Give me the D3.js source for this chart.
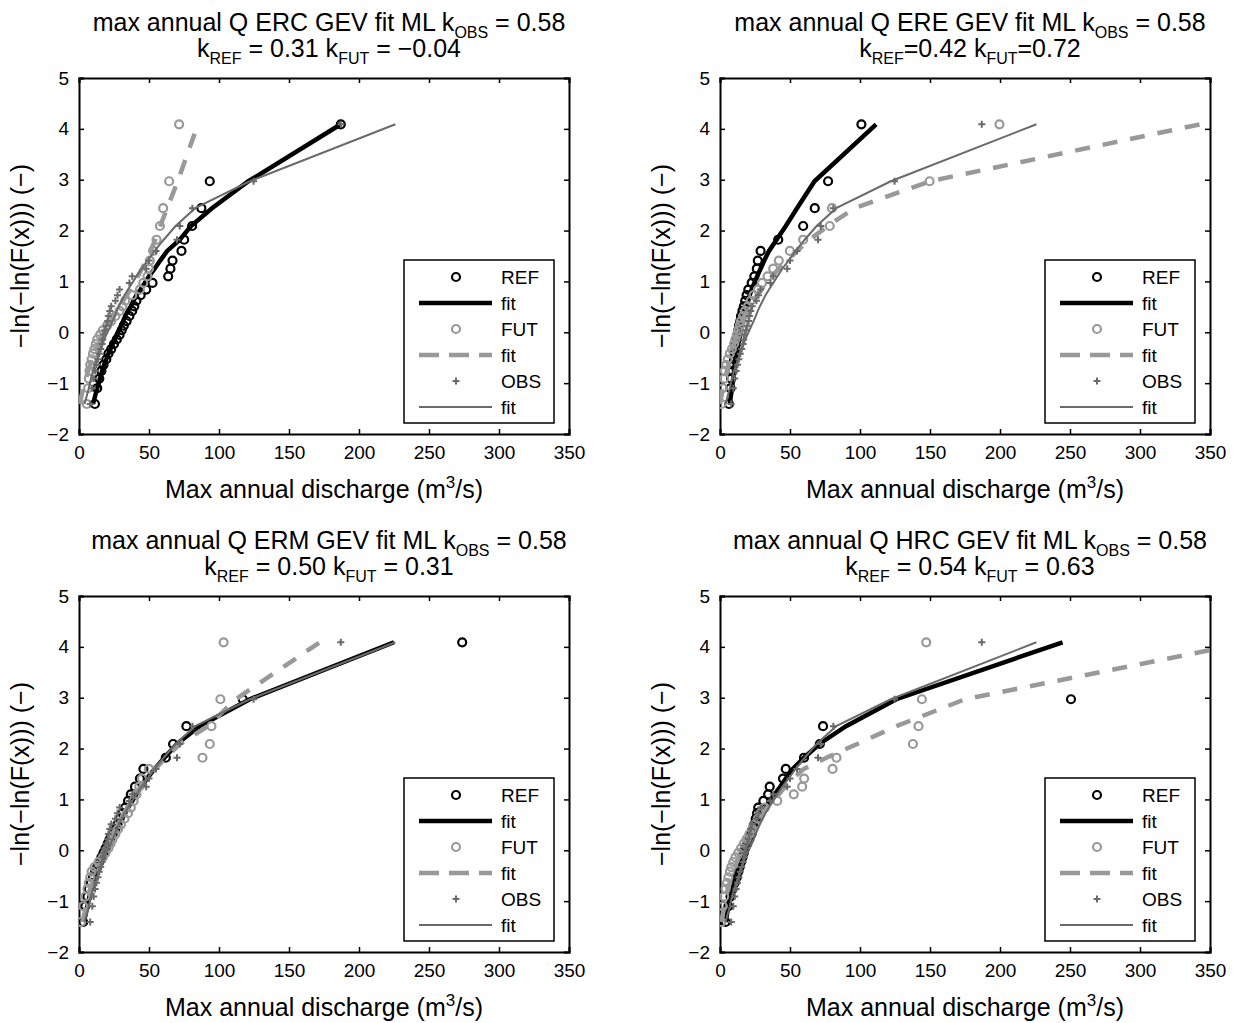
<!DOCTYPE html>
<html>
<head>
<meta charset="utf-8">
<script src="https://cdn.jsdelivr.net/npm/d3@7"></script>
<style>
  body { margin: 0; background: #fff; }
  text { font-family: "Liberation Sans", Arial, sans-serif; fill: #000; }
</style>
</head>
<body>
<script>
// reduced variate -ln(-ln(F)) of the plotting positions
const yPos = [-1.41, -1.10, -0.91, -0.76, -0.64, -0.53, -0.42, -0.33, -0.23, -0.14,
              -0.05, 0.04, 0.13, 0.22, 0.32, 0.42, 0.51, 0.62, 0.73, 0.84,
              0.97, 1.10, 1.25, 1.41, 1.60, 1.82, 2.09, 2.44, 2.97, 4.09];

// observed series, same in every panel
const obsQ   = [8, 9.5, 10.5, 11.5, 12.5, 13.5, 14.5, 15.5, 16.5, 17, 17.5, 18.5, 19.5, 20.5, 21, 22, 23, 26, 27.5, 29,
                36, 38, 48, 50, 55, 70, 72, 81, 124.7, 187];
const obsFit = [4, 7, 8.5, 10, 11.5, 13, 14, 15.5, 17, 18, 19.5, 21, 22.5, 24, 25.5, 27, 28.5, 30.5, 32.5, 35,
                38, 41, 44.5, 49, 54, 60.5, 69, 83, 122, 226];

// ERC
const ercRef    = [11.4, 13, 14.5, 16, 17.5, 19.5, 21, 23, 25, 27, 29, 30.5, 32, 34, 36, 38, 39.5, 41, 44, 48,
                   52.5, 63.7, 65.3, 66.8, 73.2, 75.1, 80.8, 87.4, 93.4, 187];
const ercRefFit = [10, 13, 15, 16.5, 18, 19.5, 21, 22.5, 24, 25.5, 27, 28.5, 30, 31.5, 33, 35, 37, 39, 41, 44,
                   47, 50, 54, 58, 63, 72, 80, 95, 121, 187];
const ercFut    = [5.5, 6.5, 7, 7.5, 8, 9, 10, 11, 12, 13, 15, 17, 20, 23, 26, 29, 31, 33, 38, 43.5,
                   45.9, 48.9, 49.9, 50.6, 53, 55.4, 57.8, 60.1, 64.4, 71.5];
const ercFutFit = [0.5, 3, 5, 6.5, 8, 9.5, 11, 12.5, 14, 15.5, 17, 19, 21, 23, 25, 27, 29, 31.5, 34, 36.5,
                   39.5, 42, 45, 48, 51, 54.5, 58, 63, 70.5, 85];

// ERE
const ereRef    = [6.4, 7.5, 8, 9, 9.5, 10, 10.5, 11, 11.5, 12, 12.5, 13, 13.5, 14.5, 15, 16, 17, 18, 19, 20.2,
                   22.6, 24.5, 26.3, 27, 29, 41.6, 59.4, 67.7, 77.2, 101];
const ereRefFit = [7, 8.5, 9.5, 10, 10.5, 11, 11.5, 12, 12.5, 13.2, 14, 14.6, 15.3, 16, 17, 18, 19, 20, 21.2, 22.6,
                   24.5, 26.5, 29, 31.6, 35, 40.4, 47, 55, 67.5, 111.5];
const ereFut    = [1, 2, 3, 3.5, 4.5, 5.5, 7, 8.5, 10, 11, 12, 13, 14, 15, 16.5, 18, 20, 22, 24, 27,
                   30, 34, 38, 42, 49.9, 59.4, 78.4, 80, 149.7, 199.6];
const ereFutFit = [0, 2, 3.5, 5, 6, 7, 8, 9, 10, 11, 12, 13, 14.5, 16, 17.5, 19.5, 21.5, 24, 26.5, 29.5,
                   33, 37, 42, 48, 55, 64, 77, 96, 150, 343];

// ERM
const ermRef    = [3, 4.5, 6, 7, 8.5, 10, 11.5, 13, 14.5, 16, 17.5, 19, 20.5, 22, 24, 26, 27.5, 29, 31, 33,
                   35, 37, 40, 43.5, 46, 62, 67.2, 76.7, 117, 273.7];
const ermRefFit = [3.5, 6, 7.5, 9, 10.5, 12, 13.5, 14.5, 16, 17.5, 19, 20.5, 22, 23.5, 25, 27, 28.5, 30.5, 32.5, 35,
                   38, 41, 44.5, 48.5, 54, 61, 70, 86, 122, 225];
const ermFut    = [1.5, 3, 4.5, 6, 7, 8, 9, 11, 14, 17, 19, 21, 22.5, 24, 26, 28, 30, 32.5, 35, 37,
                   39, 41, 43, 45, 50, 88.2, 93.4, 94.6, 101, 103.3];
const ermFutFit = [2.5, 5, 6.5, 8, 9.5, 11, 12.5, 14, 15.5, 17, 18.5, 20, 21.5, 23, 24.5, 26, 28, 30, 32, 34.5,
                   37.5, 40.5, 44, 48, 54.5, 62, 72, 92, 112, 172];

// HRC
const hrcRef    = [4, 6, 7.5, 9, 10.5, 12, 13, 14, 15, 16, 17, 18, 19.5, 21, 22.5, 23.5, 24.5, 25.5, 26.5, 27.3,
                   31, 34.4, 35.5, 45, 47, 60, 71.3, 73.6, 250.7, 400];
const hrcRefFit = [4, 6, 7.5, 9, 10, 11.5, 12.5, 14, 15, 16.5, 18, 19, 20.5, 22, 23.5, 25, 27, 28.5, 30.5, 33,
                   36, 39, 43, 47, 52, 60, 71, 90, 126, 244.7];
const hrcFut    = [1, 2, 3, 4, 5, 6, 7, 8, 9.5, 11, 13, 15, 17, 19, 21, 23, 25, 27, 29, 32,
                   40.9, 52.7, 58.7, 60.1, 80.4, 83.2, 137.8, 141.8, 144.2, 147.3];
const hrcFutFit = [1, 3, 4.5, 5.5, 7, 8, 9.5, 11, 12, 13.5, 15, 16.5, 18, 19.5, 21.5, 23.5, 25.5, 28, 30.5, 33.5,
                   37, 42, 46.5, 52, 60, 76, 98, 126, 175, 378];

const xTicks = [0, 50, 100, 150, 200, 250, 300, 350];
const yTicks = [-2, -1, 0, 1, 2, 3, 4, 5];
const legendLabels = ["REF", "fit", "FUT", "fit", "OBS", "fit"];

const panels = [
  {code: "ERC", left: 79,  top: 78,  ref: ercRef, refFit: ercRefFit, fut: ercFut, futFit: ercFutFit, kRef: "0.31", kFut: "\u22120.04", eq: " = "},
  {code: "ERE", left: 720, top: 78,  ref: ereRef, refFit: ereRefFit, fut: ereFut, futFit: ereFutFit, kRef: "0.42", kFut: "0.72", eq: "="},
  {code: "ERM", left: 79,  top: 596, ref: ermRef, refFit: ermRefFit, fut: ermFut, futFit: ermFutFit, kRef: "0.50", kFut: "0.31", eq: " = "},
  {code: "HRC", left: 720, top: 596, ref: hrcRef, refFit: hrcRefFit, fut: hrcFut, futFit: hrcFutFit, kRef: "0.54", kFut: "0.63", eq: " = "}
];

const W = 490, H = 356;
const black = "#000", lightGray = "#999", darkGray = "#6a6a6a";

const svg = d3.select("body").append("svg")
    .attr("width", 1234)
    .attr("height", 1023);

panels.forEach((p, i) => drawPanel(p, i));

function drawPanel(p, idx) {
    const g = svg.append("g").attr("transform", `translate(${p.left},${p.top})`);

    const x = d3.scaleLinear().domain([0, 350]).range([0, W]);
    const y = d3.scaleLinear().domain([-2, 5]).range([H, 0]);

    const clipId = "clip" + idx;
    g.append("clipPath").attr("id", clipId)
      .append("rect").attr("width", W).attr("height", H);

    // axes, MATLAB style: box with inward ticks
    const ax = g.append("g").attr("class", "axes");
    ax.append("g").attr("transform", `translate(0,${H})`)
        .call(d3.axisBottom(x).tickValues(xTicks).tickSize(-5).tickPadding(12).tickFormat(d3.format("d")));
    ax.append("g")
        .call(d3.axisTop(x).tickValues(xTicks).tickSize(-5).tickFormat(""));
    ax.append("g")
        .call(d3.axisLeft(y).tickValues(yTicks).tickSize(-5).tickPadding(10).tickFormat(d3.format("d")));
    ax.append("g").attr("transform", `translate(${W},0)`)
        .call(d3.axisRight(y).tickValues(yTicks).tickSize(-5).tickFormat(""));
    ax.selectAll(".domain").attr("stroke", black).attr("stroke-width", 2);
    ax.selectAll(".tick line").attr("stroke", black).attr("stroke-width", 1.5);
    ax.selectAll(".tick text").attr("font-size", 19).attr("fill", black)
        .style("font-family", '"Liberation Sans", Arial, sans-serif');

    const plot = g.append("g").attr("clip-path", `url(#${clipId})`);
    const line = d3.line().x(d => x(d[0])).y(d => y(d[1]));
    const pairs = arr => arr.map((v, k) => [v, yPos[k]]);

    // REF points + fit
    plot.append("g").selectAll("circle").data(pairs(p.ref)).join("circle")
        .attr("cx", d => x(d[0])).attr("cy", d => y(d[1])).attr("r", 4)
        .attr("fill", "none").attr("stroke", black).attr("stroke-width", 2.2);
    plot.append("path").datum(pairs(p.refFit)).attr("d", line)
        .attr("fill", "none").attr("stroke", black).attr("stroke-width", 4.5);

    // FUT points + fit
    plot.append("g").selectAll("circle").data(pairs(p.fut)).join("circle")
        .attr("cx", d => x(d[0])).attr("cy", d => y(d[1])).attr("r", 4)
        .attr("fill", "none").attr("stroke", lightGray).attr("stroke-width", 2.2);
    plot.append("path").datum(pairs(p.futFit)).attr("d", line)
        .attr("fill", "none").attr("stroke", lightGray).attr("stroke-width", 4.5)
        .attr("stroke-dasharray", "15,13");

    // OBS points + fit
    plot.append("g").selectAll("path").data(pairs(obsQ)).join("path")
        .attr("d", d => `M${x(d[0]) - 3.5},${y(d[1])}h7M${x(d[0])},${y(d[1]) - 3.5}v7`)
        .attr("stroke", darkGray).attr("stroke-width", 2);
    plot.append("path").datum(pairs(obsFit)).attr("d", line)
        .attr("fill", "none").attr("stroke", darkGray).attr("stroke-width", 2);

    // legend
    const lg = g.append("g").attr("transform", "translate(325,182)");
    lg.append("rect").attr("width", 150).attr("height", 163)
        .attr("fill", "#fff").attr("stroke", black).attr("stroke-width", 1.5);
    const rows = [17, 43, 69, 95, 121, 147];
    legendLabels.forEach((lab, k) => {
        const ry = rows[k];
        if (k === 0 || k === 2) {
            lg.append("circle").attr("cx", 52).attr("cy", ry).attr("r", 4)
                .attr("fill", "none").attr("stroke", k === 0 ? black : lightGray).attr("stroke-width", 2.2);
        } else if (k === 4) {
            lg.append("path").attr("d", `M48.5,${ry}h7M52,${ry - 3.5}v7`)
                .attr("stroke", darkGray).attr("stroke-width", 2);
        } else {
            const ln = lg.append("line").attr("x1", 15).attr("x2", 88).attr("y1", ry).attr("y2", ry);
            if (k === 1) ln.attr("stroke", black).attr("stroke-width", 4.5);
            if (k === 3) ln.attr("stroke", lightGray).attr("stroke-width", 4.5).attr("stroke-dasharray", "20,10");
            if (k === 5) ln.attr("stroke", darkGray).attr("stroke-width", 2);
        }
        lg.append("text").attr("x", 97).attr("y", ry + 7).attr("font-size", 19).text(lab);
    });

    // title
    const t1 = g.append("text").attr("x", W / 2 + 5).attr("y", -47)
        .attr("text-anchor", "middle").attr("font-size", 25);
    t1.append("tspan").text(`max annual Q ${p.code} GEV fit ML k`);
    t1.append("tspan").attr("dy", 7).attr("font-size", 16).text("OBS");
    t1.append("tspan").attr("dy", -7).text(" = 0.58");

    const t2 = g.append("text").attr("x", W / 2 + 5).attr("y", -21)
        .attr("text-anchor", "middle").attr("font-size", 25);
    t2.append("tspan").text("k");
    t2.append("tspan").attr("dy", 7).attr("font-size", 16).text("REF");
    t2.append("tspan").attr("dy", -7).text(`${p.eq}${p.kRef} k`);
    t2.append("tspan").attr("dy", 7).attr("font-size", 16).text("FUT");
    t2.append("tspan").attr("dy", -7).text(`${p.eq}${p.kFut}`);

    // axis labels
    const xl = g.append("text").attr("x", W / 2).attr("y", H + 64)
        .attr("text-anchor", "middle").attr("font-size", 25);
    xl.append("tspan").text("Max annual discharge (m");
    xl.append("tspan").attr("dy", -10).attr("font-size", 17).text("3");
    xl.append("tspan").attr("dy", 10).text("/s)");

    g.append("text")
        .attr("transform", `translate(${-50},${H / 2}) rotate(-90)`)
        .attr("text-anchor", "middle").attr("font-size", 25)
        .text("\u2212ln(\u2212ln(F(x))) (\u2212)");
}
</script>
</body>
</html>
